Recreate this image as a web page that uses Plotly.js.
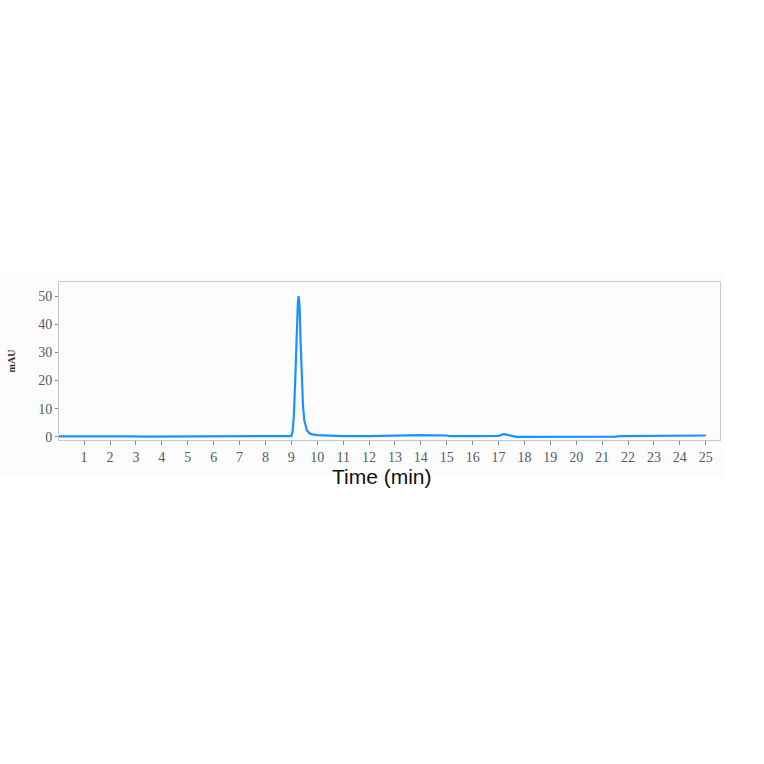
<!DOCTYPE html>
<html>
<head>
<meta charset="utf-8">
<script src="https://cdn.plot.ly/plotly-3.0.1.min.js"></script>
<style>
  html, body { margin: 0; padding: 0; background: #ffffff; }
  #chart { width: 764px; height: 764px; }
</style>
</head>
<body>
<div id="chart"></div>
<script>
// retention time (min) and detector signal (mAU)
const timeMin = [0, 1, 2, 2.5, 2.7, 2.9, 3.2, 4, 5, 6, 7, 8, 8.9,
    9.0, 9.05, 9.1, 9.15, 9.2, 9.25, 9.28, 9.32, 9.36, 9.4, 9.45, 9.5, 9.55, 9.6,
    9.7, 9.8, 10.0, 10.3, 10.5, 11, 12, 12.5, 13, 14, 15, 15.1, 16, 17, 17.1,
    17.2, 17.3, 17.5, 17.7, 18, 19, 20, 21, 21.5, 21.7, 22, 23, 23.8, 24, 25];
const mAU = [0.2, 0.2, 0.2, 0.2, 0.4, 0.2, 0.1, 0.1, 0.1, 0.1, 0.1, 0.1, 0.1,
    0.3, 2, 8, 20, 35, 47, 50, 46, 33, 20, 11, 6, 3.5, 2.3,
    1.3, 0.9, 0.6, 0.5, 0.3, 0.3, 0.3, 0.4, 0.5, 0.6, 0.5, 0.3, 0.3, 0.4, 0.7,
    1.0, 0.8, 0.4, 0.0, 0.0, 0.0, 0.0, 0.0, 0.1, 0.3, 0.3, 0.3, 0.4, 0.5, 0.5];

const xTicks = [1, 2, 3, 4, 5, 6, 7, 8, 9, 10, 11, 12, 13, 14, 15, 16, 17, 18, 19, 20, 21, 22, 23, 24, 25];
const yTicks = [0, 10, 20, 30, 40, 50];

const traceColor = "rgb(30,144,255)";
const tickFont = {family: "Liberation Serif, DejaVu Serif, serif", size: 14, color: "#555a66"};

const trace = {
    x: timeMin,
    y: mAU,
    type: "scatter",
    mode: "lines",
    line: {color: traceColor, width: 2.2},
    hoverinfo: "skip"
};

const layout = {
    width: 764,
    height: 764,
    margin: {l: 59, r: 44, t: 282, b: 324},
    paper_bgcolor: "#ffffff",
    plot_bgcolor: "#fdfdfd",
    showlegend: false,
    shapes: [{
        type: "rect", xref: "paper", yref: "paper", layer: "below",
        x0: -0.09, x1: 1.006, y0: -0.24, y1: 1.07,
        fillcolor: "#fcfcfc", line: {width: 0}
    }],
    annotations: [{
        text: "Time (min)",
        xref: "paper", yref: "paper",
        x: 0.489, y: -0.232,
        xanchor: "center", yanchor: "middle",
        showarrow: false,
        font: {family: "Liberation Sans, Arial, sans-serif", size: 21, color: "#111111"}
    }],
    xaxis: {
        range: [0.03, 25.55],
        tickvals: xTicks,
        ticktext: xTicks.map(String),
        ticks: "outside",
        ticklen: 4,
        tickcolor: "#888888",
        tickfont: tickFont,
        showgrid: false,
        zeroline: false,
        showline: true,
        mirror: true,
        linecolor: "#c9c9d1",
        linewidth: 1
    },
    yaxis: {
        range: [-1.1, 55],
        tickvals: yTicks,
        ticktext: yTicks.map(String),
        ticks: "outside",
        ticklen: 3,
        tickcolor: "#888888",
        tickfont: tickFont,
        showgrid: false,
        zeroline: false,
        showline: true,
        mirror: true,
        linecolor: "#c9c9d1",
        linewidth: 1,
        title: {
            text: "<b>mAU</b>",
            font: {family: "Liberation Serif, DejaVu Serif, serif", size: 10, color: "#333333"},
            standoff: 20
        }
    }
};

Plotly.newPlot("chart", [trace], layout, {displayModeBar: false, staticPlot: true});
</script>
</body>
</html>
